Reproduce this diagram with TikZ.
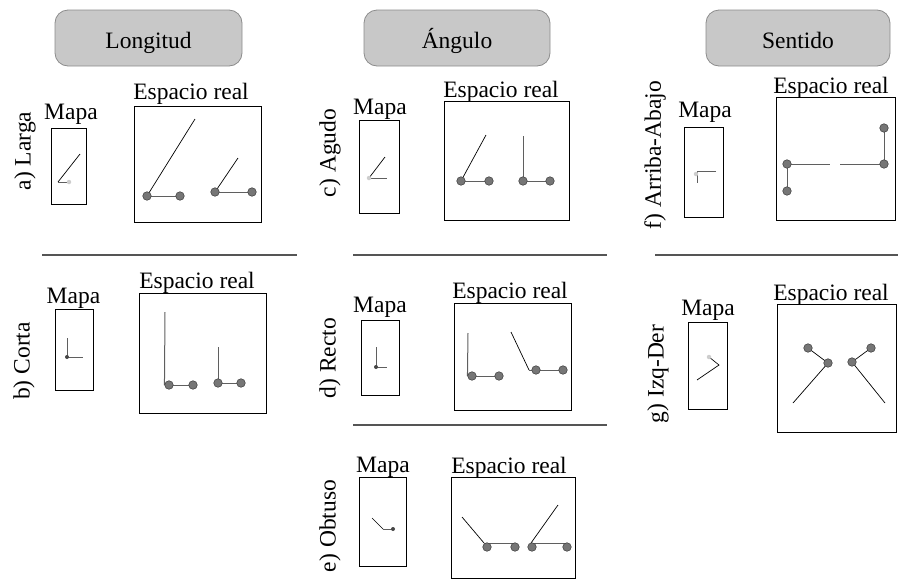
\documentclass[tikz,border=0pt]{standalone}
\usepackage{fontspec}
\setmainfont{Liberation Serif}
\pgfdeclarelayer{bg}
\pgfsetlayers{bg,main}
\definecolor{hdrfill}{RGB}{200,200,200}
\definecolor{hdrdraw}{RGB}{140,140,140}
\definecolor{dotfill}{RGB}{118,118,118}
\definecolor{dotdraw}{RGB}{70,70,70}
\definecolor{seggray}{RGB}{95,95,95}
\definecolor{seprule}{RGB}{85,85,85}
\definecolor{lightdot}{RGB}{205,205,205}
\newcommand{\lblfont}{\fontsize{23.5}{28}\selectfont}
\tikzset{
  txt/.style={font=\lblfont, inner sep=0pt, anchor=base},
  side/.style={font=\lblfont, inner sep=0pt, rotate=90, anchor=center},
  hdr/.style={rounded corners=13pt, fill=hdrfill, draw=hdrdraw, line width=0.8pt,
    minimum width=#1, minimum height=56pt, text height=20pt, text depth=0pt,
    inner sep=0pt, font=\lblfont},
  frame/.style={draw=black, line width=0.9pt},
  bigdot/.style={circle, fill=dotfill, draw=dotdraw, line width=0.6pt, minimum size=8.5pt, inner sep=0pt},
  smalldot/.style={circle, fill=dotdraw, minimum size=4pt, inner sep=0pt},
  palendot/.style={circle, fill=lightdot, minimum size=4.5pt, inner sep=0pt},
  arm/.style={draw=black, line width=0.7pt},
  seg/.style={draw=seggray, line width=1pt},
  rule/.style={draw=seprule, line width=1.5pt}
}
\begin{document}
\begin{tikzpicture}[x=1pt,y=-1pt]
\useasboundingbox (0,0) rectangle (898,579);
% headers
\node[hdr=187pt] (hL) at (148.5,38) {Longitud};
\node[hdr=186pt] (hA) at (457,38) {Ángulo};
\node[hdr=184pt] (hS) at (798,38) {Sentido};
% side labels
\node[side] (la) at (25,151) {a) Larga};
\node[side] (lb) at (24,361) {b) Corta};
\node[side] (lc) at (330,153) {c) Agudo};
\node[side] (ld) at (330,358) {d) Recto};
\node[side] (le) at (330,526) {e) Obtuso};
\node[side] (lf) at (655,155) {f) Arriba-Abajo};
\node[side] (lg) at (658,374) {g) Izq-Der};
% Mapa / Espacio real titles
\node[txt] (ma) at (71,119) {Mapa};
\node[txt] (ra) at (191,99) {Espacio real};
\node[txt] (mb) at (73.5,303) {Mapa};
\node[txt] (rb) at (197,288) {Espacio real};
\node[txt] (mc) at (380,114) {Mapa};
\node[txt] (rc) at (501,97) {Espacio real};
\node[txt] (md) at (380,312) {Mapa};
\node[txt] (rd) at (510,298) {Espacio real};
\node[txt] (me) at (383,472) {Mapa};
\node[txt] (re) at (509,473) {Espacio real};
\node[txt] (mf) at (705,117) {Mapa};
\node[txt] (rf) at (831,93) {Espacio real};
\node[txt] (mg) at (708,315) {Mapa};
\node[txt] (rg) at (831,300) {Espacio real};
% frames
\draw[frame] (51,128) rectangle (86,204);
\draw[frame] (134,106) rectangle (261,222);
\draw[frame] (55,309) rectangle (93,390);
\draw[frame] (139,293) rectangle (266,413);
\draw[frame] (359,120) rectangle (399,213);
\draw[frame] (444,101) rectangle (569,220);
\draw[frame] (361,320) rectangle (399,395);
\draw[frame] (454,303) rectangle (571,410);
\draw[frame] (359,477) rectangle (406,566);
\draw[frame] (451,477) rectangle (575,578);
\draw[frame] (684,127) rectangle (723,217);
\draw[frame] (776,97) rectangle (895,220);
\draw[frame] (688,322) rectangle (727,409);
\draw[frame] (777,304) rectangle (896,432);
% separators
\coordinate (s1a) at (42,255); \coordinate (s1b) at (297,255);
\coordinate (s2a) at (353,255); \coordinate (s2b) at (607,255);
\coordinate (s3a) at (353,425); \coordinate (s3b) at (607,425);
\coordinate (s4a) at (655,255); \coordinate (s4b) at (898,255);
\draw[rule] (s1a) -- (s1b);
\draw[rule] (s2a) -- (s2b);
\draw[rule] (s3a) -- (s3b);
\draw[rule] (s4a) -- (s4b);

% ---------- a) Larga ----------
\node[palendot] (pa) at (69,182) {};
\coordinate (pa1) at (80,154); \coordinate (pa2) at (58,182);
\node[bigdot] (a1) at (147,196) {};
\node[bigdot] (a2) at (180,196) {};
\node[bigdot] (a3) at (215,192) {};
\node[bigdot] (a4) at (252,192) {};
\coordinate (at1) at (195,119); \coordinate (at2) at (238,158);
% ---------- b) Corta ----------
\node[smalldot] (pb) at (67,357) {};
\coordinate (pb1) at (67,338); \coordinate (pb2) at (83,357);
\node[bigdot] (b1) at (169,385) {};
\node[bigdot] (b2) at (193,385) {};
\node[bigdot] (b3) at (218,383) {};
\node[bigdot] (b4) at (241,383) {};
\coordinate (bt1) at (165,312); \coordinate (bt2) at (218,347);
% ---------- c) Agudo ----------
\node[palendot] (pc) at (369,178) {};
\coordinate (pc1) at (385,157); \coordinate (pc2) at (387,178);
\node[bigdot] (c1) at (461,181) {};
\node[bigdot] (c2) at (489,181) {};
\node[bigdot] (c3) at (523,181) {};
\node[bigdot] (c4) at (550,181) {};
\coordinate (ct1) at (486,135); \coordinate (ct2) at (523,136);
% ---------- d) Recto ----------
\node[smalldot] (pd) at (376,367) {};
\coordinate (pd1) at (376,347); \coordinate (pd2) at (387,367);
\node[bigdot] (d1) at (472,376) {};
\node[bigdot] (d2) at (499,376) {};
\node[bigdot] (d3) at (536,370) {};
\node[bigdot] (d4) at (563,370) {};
\coordinate (dt1) at (468,333); \coordinate (dt2) at (511,332); \coordinate (dc) at (529,370);
% ---------- e) Obtuso ----------
\node[smalldot] (pe) at (393,529) {};
\coordinate (pe1) at (372,518); \coordinate (pe2) at (383,529);
\node[bigdot] (e1) at (487,547) {};
\node[bigdot] (e2) at (515,547) {};
\node[bigdot] (e3) at (532,547) {};
\node[bigdot] (e4) at (567,547) {};
\coordinate (et1) at (462,517); \coordinate (ec1) at (484,543); \coordinate (ee1) at (515,543);
\coordinate (et2) at (558,505); \coordinate (ec2) at (531,543); \coordinate (ee2) at (567,543);
% ---------- f) Arriba-Abajo ----------
\node[palendot] (pf) at (696,174) {};
\coordinate (pf1) at (716,171); \coordinate (pf2) at (697,171); \coordinate (pf3) at (697,183);
\node[bigdot] (f1) at (787,164) {};
\node[bigdot] (f2) at (787,191) {};
\node[bigdot] (f3) at (884,164) {};
\node[bigdot] (f4) at (884,128) {};
\coordinate (fh1) at (830,164); \coordinate (fh2) at (840,164);
% ---------- g) Izq-Der ----------
\node[palendot] (pg) at (709,357) {};
\coordinate (pg1) at (719,365); \coordinate (pg2) at (697,380);
\node[bigdot] (g1) at (808,348) {};
\node[bigdot] (g2) at (828,363) {};
\node[bigdot] (g3) at (871,348) {};
\node[bigdot] (g4) at (852,362) {};
\coordinate (gt1) at (793,403); \coordinate (gt2) at (885,403);

\begin{pgfonlayer}{bg}
% a
\draw[arm] (pa1) -- (pa2);
\draw[seg] (pa2) -- (pa.center);
\draw[arm] (at1) -- (a1.center);
\draw[seg] (a1.center) -- (a2.center);
\draw[arm] (at2) -- (a3.center);
\draw[seg] (a3.center) -- (a4.center);
% b
\draw[seg] (pb1) -- (pb.center) -- (pb2);
\draw[seg] (bt1) -- (b1.west);
\draw[seg] (b1.center) -- (b2.center);
\draw[seg] (bt2) -- (b3.center);
\draw[seg] (b3.center) -- (b4.center);
% c
\draw[arm] (pc1) -- (pc.center);
\draw[seg] (pc.center) -- (pc2);
\draw[arm] (ct1) -- (c1.center);
\draw[seg] (c1.center) -- (c2.center);
\draw[seg] (ct2) -- (c3.center);
\draw[seg] (c3.center) -- (c4.center);
% d
\draw[seg] (pd1) -- (pd.center) -- (pd2);
\draw[seg] (dt1) -- (d1.west);
\draw[seg] (d1.center) -- (d2.center);
\draw[arm] (dt2) -- (dc);
\draw[seg] (dc) -- (d4.center);
% e
\draw[arm] (pe1) -- (pe2);
\draw[seg] (pe2) -- (pe.center);
\draw[arm] (et1) -- (ec1);
\draw[seg] (ec1) -- (ee1);
\draw[arm] (et2) -- (ec2);
\draw[seg] (ec2) -- (ee2);
% f
\draw[seg] (pf1) -- (pf2) -- (pf3);
\draw[seg] (f2.center) -- (f1.center) -- (fh1);
\draw[seg] (fh2) -- (f3.center) -- (f4.center);
% g
\draw[arm] (pg.center) -- (pg1) -- (pg2);
\draw[arm] (g1.center) -- (g2.center) -- (gt1);
\draw[arm] (g3.center) -- (g4.center) -- (gt2);
\end{pgfonlayer}
\end{tikzpicture}
\end{document}
